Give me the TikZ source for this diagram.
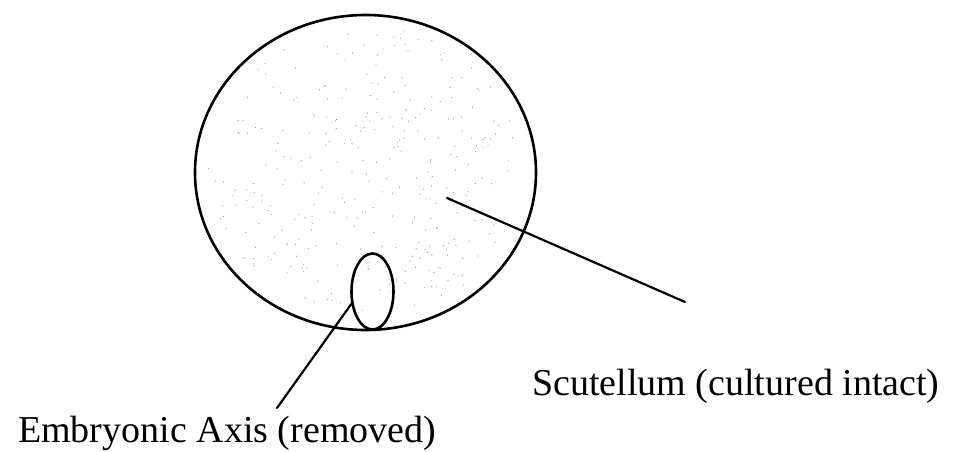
\documentclass[tikz,border=0pt]{standalone}
\usepackage{fontspec}
\setmainfont{Liberation Serif}
\begin{document}
\begin{tikzpicture}[x=1pt,y=-1pt,
  outline/.style={line width=2.6pt,line cap=round},
  leader/.style={line width=2.2pt,line cap=round},
  labeltext/.style={font=\fontsize{38}{40}\selectfont,inner sep=0pt,anchor=base west},
  stipple/.style={fill=black!45}]
\useasboundingbox (0,0) rectangle (954,452);
\pgfmathsetseed{7}
\foreach \i in {1,...,320}{
  \pgfmathsetmacro\rr{0.93*sqrt(rnd)}
  \pgfmathsetmacro\aa{360*rnd}
  \fill[stipple] ({365.5+170*\rr*cos(\aa)},{172.5+157*\rr*sin(\aa)}) circle (0.6pt);
}
\draw[outline] (365.5,172.5) ellipse [x radius=170.5, y radius=157.5];
\draw[outline] (372.5,291.5) ellipse [x radius=21, y radius=38];
\coordinate (scutA) at (447,198);
\coordinate (scutB) at (685,302);
\coordinate (embA) at (352,303);
\coordinate (embB) at (277,408);
\draw[leader] (scutA) -- (scutB);
\draw[leader] (embA) -- (embB);
\node[labeltext] (scutlabel) at (532,395) {Scutellum (cultured intact)};
\node[labeltext] (emblabel) at (18,442) {Embryonic Axis (removed)};
\end{tikzpicture}
\end{document}
